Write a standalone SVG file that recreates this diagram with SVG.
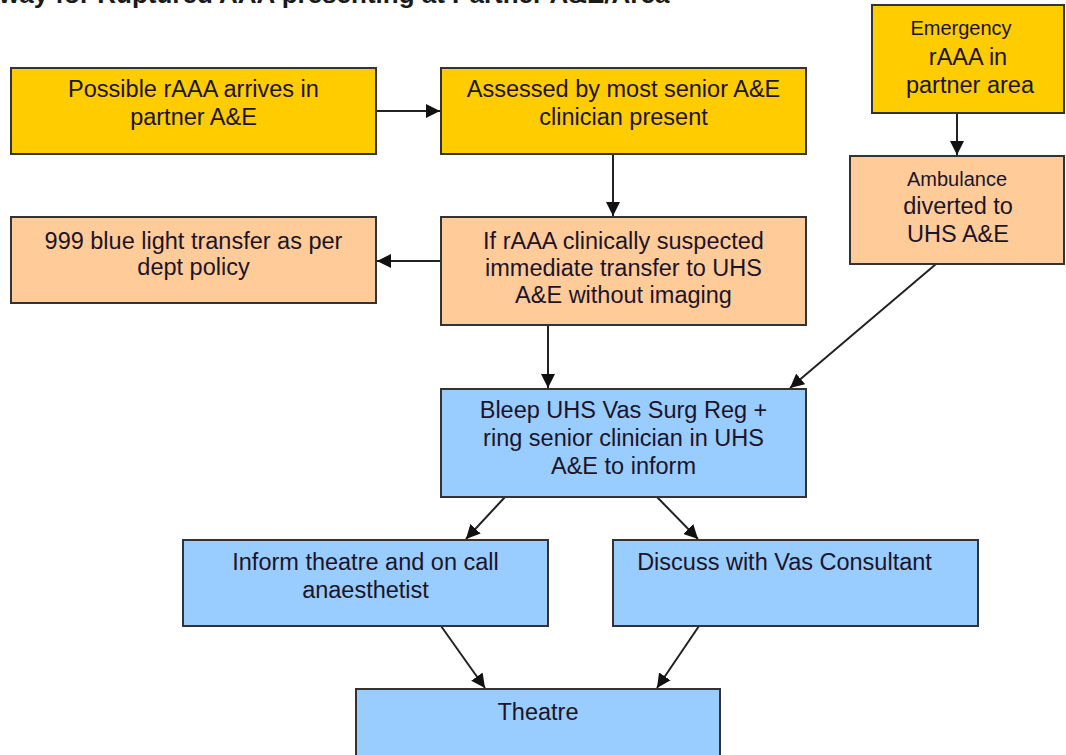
<svg xmlns="http://www.w3.org/2000/svg" width="1066" height="755" viewBox="0 0 1066 755">
<defs>
<style>
.box{stroke:#333;stroke-width:2}
.y{fill:#FFCC00}.p{fill:#FFCC99}.b{fill:#99CCFF}
.t{font-family:"Liberation Sans",Arial,sans-serif;font-size:23.5px;fill:#1c1428;text-anchor:middle}
.s{font-size:20px}
.title{font-family:"Liberation Sans",Arial,sans-serif;font-size:26px;font-weight:bold;fill:#1a1a1a}
.c{stroke:#222;stroke-width:2;fill:none;marker-end:url(#ah)}
</style>
<marker id="ah" viewBox="0 0 10 10" refX="10" refY="5" markerWidth="7" markerHeight="7" orient="auto" markerUnits="strokeWidth">
<path d="M0,0 L10,5 L0,10 z" fill="#111"/>
</marker>
</defs>
<rect width="1066" height="755" fill="#fff"/>
<text class="title" x="-1" y="3">way for Ruptured AAA presenting at Partner A&amp;E/Area</text>

<g id="connectors">
<line class="c" x1="376" y1="111" x2="440" y2="111"/>
<line class="c" x1="613" y1="154" x2="613" y2="216"/>
<line class="c" x1="441" y1="261" x2="377" y2="261"/>
<line class="c" x1="548" y1="325" x2="548" y2="388"/>
<line class="c" x1="957" y1="113" x2="957" y2="155"/>
<line class="c" x1="936" y1="264" x2="790" y2="388"/>
<line class="c" x1="505" y1="497" x2="466" y2="539"/>
<line class="c" x1="657" y1="497" x2="698" y2="539"/>
<line class="c" x1="441" y1="626" x2="485" y2="688"/>
<line class="c" x1="699" y1="626" x2="657" y2="688"/>
</g>

<g id="n1"><rect class="box y" x="11" y="68" width="365" height="86"/>
<text class="t" x="193.5" y="97">Possible rAAA arrives in</text><text class="t" x="193.5" y="125">partner A&amp;E</text></g>

<g id="n2"><rect class="box y" x="441" y="68" width="365" height="86"/>
<text class="t" x="623.5" y="97">Assessed by most senior A&amp;E</text><text class="t" x="623.5" y="125">clinician present</text></g>

<g id="n3"><rect class="box y" x="872" y="5" width="192" height="108"/>
<text class="t s" x="961" y="35">Emergency</text><text class="t" x="968" y="65">rAAA in</text><text class="t" x="970" y="93">partner area</text></g>

<g id="n4"><rect class="box p" x="850" y="156" width="214" height="108"/>
<text class="t s" x="957" y="186">Ambulance</text><text class="t" x="958" y="214">diverted to</text><text class="t" x="958" y="242">UHS A&amp;E</text></g>

<g id="n5"><rect class="box p" x="11" y="217" width="365" height="86"/>
<text class="t" x="193.5" y="249">999 blue light transfer as per</text><text class="t" x="193.5" y="275">dept policy</text></g>

<g id="n6"><rect class="box p" x="441" y="217" width="365" height="108"/>
<text class="t" x="623.5" y="249">If rAAA clinically suspected</text><text class="t" x="623.5" y="276">immediate transfer to UHS</text><text class="t" x="623.5" y="303">A&amp;E without imaging</text></g>

<g id="n7"><rect class="box b" x="441" y="389" width="365" height="108"/>
<text class="t" x="623.5" y="418">Bleep UHS Vas Surg Reg +</text><text class="t" x="623.5" y="446">ring senior clinician in UHS</text><text class="t" x="623.5" y="474">A&amp;E to inform</text></g>

<g id="n8"><rect class="box b" x="183" y="540" width="365" height="86"/>
<text class="t" x="365.5" y="570">Inform theatre and on call</text><text class="t" x="365.5" y="598">anaesthetist</text></g>

<g id="n9"><rect class="box b" x="613" y="540" width="365" height="86"/>
<text class="t" x="784.5" y="570">Discuss with Vas Consultant</text></g>

<g id="n10"><rect class="box b" x="356" y="689" width="364" height="70"/>
<text class="t" x="538" y="720">Theatre</text></g>
</svg>
